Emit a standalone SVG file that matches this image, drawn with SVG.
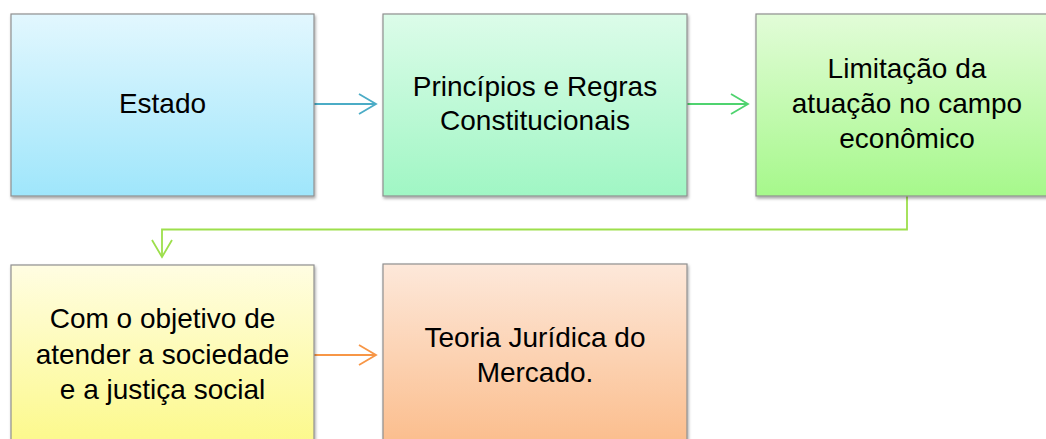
<svg xmlns="http://www.w3.org/2000/svg" width="1046" height="439" viewBox="0 0 1046 439">
<style>
.box{stroke:#8f8f8f;stroke-width:1.2;filter:url(#sh)}
.t{font-family:"Liberation Sans",Arial,sans-serif;font-size:28px;fill:#000;text-anchor:middle}
.c{fill:none;stroke-width:1.8}
</style>
<defs>
<filter id="sh" x="-5%" y="-5%" width="115%" height="115%">
<feDropShadow dx="1" dy="2" stdDeviation="1.5" flood-color="#000" flood-opacity="0.35"/>
</filter>
<linearGradient id="g1" x1="0" y1="0" x2="0" y2="1"><stop offset="0" stop-color="#e2f7fe"/><stop offset="1" stop-color="#9fe6fb"/></linearGradient>
<linearGradient id="g2" x1="0" y1="0" x2="0" y2="1"><stop offset="0" stop-color="#dcfce9"/><stop offset="1" stop-color="#a0f6c4"/></linearGradient>
<linearGradient id="g3" x1="0" y1="0" x2="0" y2="1"><stop offset="0" stop-color="#e2fcd8"/><stop offset="1" stop-color="#a6f88b"/></linearGradient>
<linearGradient id="g4" x1="0" y1="0" x2="0" y2="1"><stop offset="0" stop-color="#fffde2"/><stop offset="1" stop-color="#fcf98a"/></linearGradient>
<linearGradient id="g5" x1="0" y1="0" x2="0" y2="1"><stop offset="0" stop-color="#fde8da"/><stop offset="1" stop-color="#fbbd8c"/></linearGradient>
<marker id="mb" viewBox="0 0 20 22" refX="18" refY="11" markerWidth="20" markerHeight="22" markerUnits="userSpaceOnUse" orient="auto"><path d="M1,1 L18,11 L1,21" fill="none" stroke="#4bacc6" stroke-width="1.8"/></marker>
<marker id="mg" viewBox="0 0 20 22" refX="18" refY="11" markerWidth="20" markerHeight="22" markerUnits="userSpaceOnUse" orient="auto"><path d="M1,1 L18,11 L1,21" fill="none" stroke="#4fd36f" stroke-width="1.8"/></marker>
<marker id="ml" viewBox="0 0 20 22" refX="18" refY="11" markerWidth="20" markerHeight="22" markerUnits="userSpaceOnUse" orient="auto"><path d="M1,1 L18,11 L1,21" fill="none" stroke="#9ddf4c" stroke-width="1.8"/></marker>
<marker id="mo" viewBox="0 0 20 22" refX="18" refY="11" markerWidth="20" markerHeight="22" markerUnits="userSpaceOnUse" orient="auto"><path d="M1,1 L18,11 L1,21" fill="none" stroke="#f79646" stroke-width="1.8"/></marker>
</defs>
<rect width="1046" height="439" fill="#fff"/>
<g id="connectors">
<line class="c" x1="314" y1="104" x2="376" y2="104" stroke="#4bacc6" marker-end="url(#mb)"/>
<line class="c" x1="687" y1="104" x2="748" y2="104" stroke="#4fd36f" marker-end="url(#mg)"/>
<polyline class="c" points="907,196 907,229.5 162,229.5 162,257" stroke="#9ddf4c" marker-end="url(#ml)"/>
<line class="c" x1="314" y1="355" x2="376" y2="355" stroke="#f79646" marker-end="url(#mo)"/>
</g>
<g id="n1"><rect class="box" x="11" y="14" width="303" height="182" fill="url(#g1)"/><text class="t" x="162.5" y="113">Estado</text></g>
<g id="n2"><rect class="box" x="383" y="14" width="304" height="182" fill="url(#g2)"/><text class="t" x="535" y="96">Princípios e Regras</text><text class="t" x="535" y="130">Constitucionais</text></g>
<g id="n3"><rect class="box" x="756" y="14" width="303" height="182" fill="url(#g3)"/><text class="t" x="907" y="78">Limitação da</text><text class="t" x="907" y="113">atuação no campo</text><text class="t" x="907" y="148">econômico</text></g>
<g id="n4"><rect class="box" x="11" y="265" width="303" height="182" fill="url(#g4)"/><text class="t" x="162.5" y="328">Com o objetivo de</text><text class="t" x="162.5" y="364">atender a sociedade</text><text class="t" x="162.5" y="399">e a justiça social</text></g>
<g id="n5"><rect class="box" x="383" y="264" width="304" height="182" fill="url(#g5)"/><text class="t" x="535" y="347">Teoria Jurídica do</text><text class="t" x="535" y="382">Mercado.</text></g>
</svg>
